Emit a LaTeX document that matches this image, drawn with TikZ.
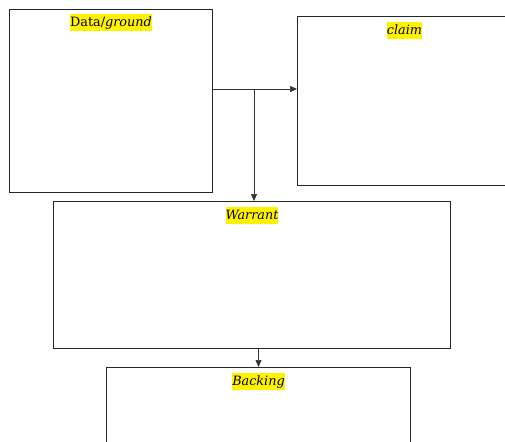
\documentclass[tikz,border=0pt]{standalone}
\usepackage{fontspec}
\setmainfont{DejaVu Serif}
\usetikzlibrary{arrows.meta,calc}
\begin{document}
\begin{tikzpicture}[x=1pt,y=-1pt,
  box/.style={draw=black!85,line width=1pt,fill=white,anchor=north west,inner sep=0pt},
  lab/.style={fill=yellow,inner sep=0pt,anchor=north,font=\fontsize{12.8}{14}\selectfont,text height=12.5pt,text depth=4pt},
  conn/.style={draw=black!80,line width=0.6pt},
  tip/.style={-{Triangle[length=7pt,width=6pt]}}]
\useasboundingbox (0,0) rectangle (505,441);
\clip (0,0) rectangle (505,441);
\node[box,minimum width=203pt,minimum height=183pt] (data) at (9,9) {};
\node[box,minimum width=214pt,minimum height=169pt] (claim) at (297,16) {};
\node[box,minimum width=397pt,minimum height=147pt] (warrant) at (53,201) {};
\node[box,minimum width=304pt,minimum height=100pt] (backing) at (106,367) {};
\node[lab] (ldata) at ($(data.north)+(0,5)$) {Data/\textit{ground}};
\node[lab] (lclaim) at ($(claim.north)+(0,6)$) {\textit{claim}};
\node[lab] (lwarrant) at ($(warrant.north)+(0,6)$) {\textit{Warrant}};
\node[lab] (lbacking) at ($(backing.north)+(0,6)$) {\textit{Backing}};
\coordinate (j) at (254,89);
\draw[conn] (data.east|-j) -- (j);
\draw[conn,tip] (j) -- (claim.west|-j);
\draw[conn,tip] (j) -- (warrant.north-|j);
\draw[conn,tip] (backing.north|-warrant.south) -- (backing.north);
\end{tikzpicture}
\end{document}
